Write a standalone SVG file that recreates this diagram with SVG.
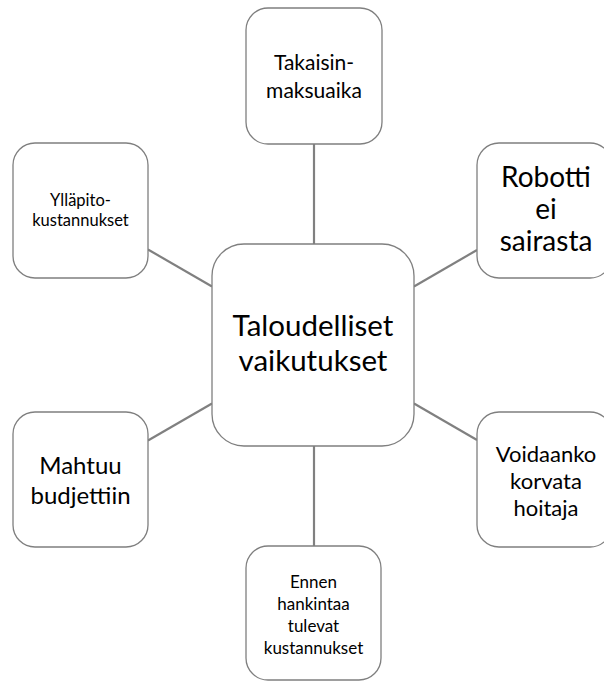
<svg xmlns="http://www.w3.org/2000/svg" width="604" height="681" viewBox="0 0 604 681">
<style>
.box{fill:#ffffff;stroke:#7f7f7f;stroke-width:1.3}
.t{font-family:Lato,"Open Sans",sans-serif;fill:#000000;text-anchor:middle}
.c{stroke:#808080;stroke-width:2.2;fill:none}
</style>
<rect width="604" height="681" fill="#ffffff"/>
<g id="connectors">
<line class="c" x1="314" y1="144" x2="314" y2="244"/>
<line class="c" x1="314" y1="446" x2="314" y2="546"/>
<line class="c" x1="148" y1="249.5" x2="212" y2="286.5"/>
<line class="c" x1="414" y1="286.5" x2="477" y2="250"/>
<line class="c" x1="148" y1="440.5" x2="212" y2="403.5"/>
<line class="c" x1="414" y1="403.5" x2="477" y2="440"/>
</g>
<g id="center">
<rect class="box" x="212" y="244" width="202" height="202" rx="32"/>
<text class="t" font-size="29.5" x="313" y="336">Taloudelliset</text>
<text class="t" font-size="29.5" x="313" y="371">vaikutukset</text>
</g>
<g id="takaisinmaksuaika">
<rect class="box" x="246" y="8" width="136" height="136" rx="22"/>
<text class="t" font-size="21" x="314" y="70">Takaisin-</text>
<text class="t" font-size="21" x="314" y="98">maksuaika</text>
</g>
<g id="yllapito">
<rect class="box" x="13" y="143" width="135" height="135" rx="22"/>
<text class="t" font-size="16.5" x="80.5" y="206">Ylläpito-</text>
<text class="t" font-size="16.5" x="80.5" y="226">kustannukset</text>
</g>
<g id="robotti">
<rect class="box" x="477" y="143" width="135" height="135" rx="22"/>
<text class="t" font-size="28" x="546" y="187">Robotti</text>
<text class="t" font-size="28" x="546" y="219">ei</text>
<text class="t" font-size="28" x="546" y="251">sairasta</text>
</g>
<g id="mahtuu">
<rect class="box" x="13" y="412" width="135" height="135" rx="22"/>
<text class="t" font-size="24" x="80.5" y="474">Mahtuu</text>
<text class="t" font-size="24" x="80.5" y="504">budjettiin</text>
</g>
<g id="voidaanko">
<rect class="box" x="477" y="412" width="135" height="135" rx="22"/>
<text class="t" font-size="22" x="546" y="462">Voidaanko</text>
<text class="t" font-size="22" x="546" y="489">korvata</text>
<text class="t" font-size="22" x="546" y="516">hoitaja</text>
</g>
<g id="ennen">
<rect class="box" x="246" y="546" width="135" height="134" rx="22"/>
<text class="t" font-size="17" x="313.5" y="588">Ennen</text>
<text class="t" font-size="17" x="313.5" y="610">hankintaa</text>
<text class="t" font-size="17" x="313.5" y="632">tulevat</text>
<text class="t" font-size="17" x="313.5" y="654">kustannukset</text>
</g>
</svg>
